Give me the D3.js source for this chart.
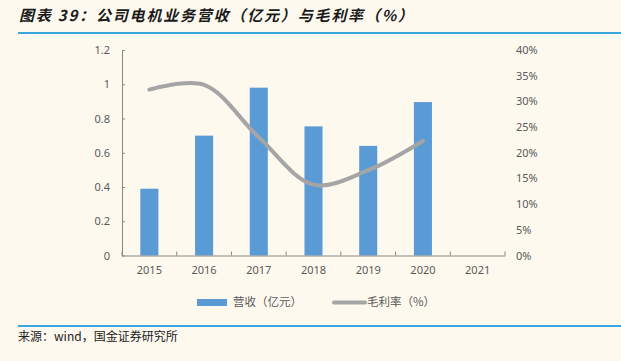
<!DOCTYPE html>
<html lang="zh">
<head>
<meta charset="UTF-8">
<title>公司电机业务营收与毛利率</title>
<style>
  * { margin: 0; padding: 0; }
  html, body { overflow: hidden; background: #FEF9EF; }
  text { font-family: "Noto Sans", "Noto Sans CJK SC", sans-serif; }
</style>
</head>
<body>
<div id="chart"></div>
<script src="https://cdn.jsdelivr.net/npm/d3@7"></script>
<script>
const years = ['2015', '2016', '2017', '2018', '2019', '2020', '2021']
const revenue = [0.39, 0.70, 0.98, 0.754, 0.64, 0.896, null]
const margin = [32.3, 33.2, 23.0, 13.8, 16.6, 22.3, null]
const leftTicks = [0, 0.2, 0.4, 0.6, 0.8, 1, 1.2]
const rightTicks = [0, 5, 10, 15, 20, 25, 30, 35, 40]

function drawChart() {
    const W = 621, H = 361
    const svg = d3.select('#chart').append('svg')
        .attr('width', W).attr('height', H)
        .style('background-color', '#FEF9EF')

    const plot = { left: 122, right: 505, top: 50, bottom: 255.5 }
    const gray = '#595959'

    // title + rules
    svg.append('text')
        .attr('x', 19).attr('y', 17)
        .attr('dominant-baseline', 'middle')
        .attr('textLength', 394).attr('lengthAdjust', 'spacing')
        .style('font-family', '"Noto Sans CJK SC", sans-serif')
        .style('font-size', '15px').style('font-weight', 'bold').style('font-style', 'italic')
        .attr('fill', '#1a1a1a')
        .text('图表 39：公司电机业务营收（亿元）与毛利率（%）')
    svg.append('line').attr('x1', 18).attr('x2', 621).attr('y1', 33).attr('y2', 33)
        .attr('stroke', '#3AA8E0').attr('stroke-width', 2)
    svg.append('line').attr('x1', 18).attr('x2', 621).attr('y1', 326).attr('y2', 326)
        .attr('stroke', '#3AA8E0').attr('stroke-width', 2)
    svg.append('text')
        .attr('x', 18).attr('y', 338)
        .attr('dominant-baseline', 'middle')
        .style('font-family', '"Noto Sans CJK SC", sans-serif')
        .style('font-size', '12px').attr('fill', '#222')
        .text('来源：wind，国金证券研究所')

    const x = d3.scaleBand().domain(years).range([plot.left, plot.right])
    const yL = d3.scaleLinear().domain([0, 1.2]).range([plot.bottom, plot.top])
    const yR = d3.scaleLinear().domain([0, 40]).range([plot.bottom, plot.top])

    // bars
    const barW = x.bandwidth() * 0.33
    svg.append('g').selectAll('rect')
        .data(years.map((y, i) => ({ y, v: revenue[i] })).filter(d => d.v != null))
        .join('rect')
        .attr('x', d => x(d.y) + x.bandwidth() / 2 - barW / 2)
        .attr('y', d => yL(d.v))
        .attr('width', barW)
        .attr('height', d => yL(0) - yL(d.v))
        .attr('fill', '#5B9BD5')

    // left axis
    const axL = svg.append('g')
        .attr('transform', `translate(${plot.left},0)`)
        .call(d3.axisLeft(yL).tickValues(leftTicks).tickSizeInner(-3).tickSizeOuter(0)
            .tickPadding(12).tickFormat(d => d3.format('')(d)))
    axL.select('.domain').attr('stroke', '#898989')
    axL.selectAll('.tick line').attr('stroke', '#898989')
    axL.selectAll('text').attr('fill', gray).style('font-size', '11px')

    // right axis
    const axR = svg.append('g')
        .attr('transform', `translate(${plot.right},0)`)
        .call(d3.axisRight(yR).tickValues(rightTicks).tickSize(0).tickPadding(11)
            .tickFormat(d => d + '%'))
    axR.select('.domain').remove()
    axR.selectAll('text').attr('fill', gray).style('font-size', '11px')

    // bottom axis
    const axB = svg.append('g')
        .attr('transform', `translate(0,${plot.bottom})`)
        .call(d3.axisBottom(x).tickSize(0).tickPadding(11))
    axB.select('.domain').attr('stroke', '#898989')
    axB.selectAll('text').attr('fill', gray).style('font-size', '11px')
    axB.selectAll('line.sep')
        .data(d3.range(years.length + 1))
        .join('line').attr('class', 'sep')
        .attr('x1', i => x.step() * i + plot.left).attr('x2', i => x.step() * i + plot.left)
        .attr('y1', 0).attr('y2', -4)
        .attr('stroke', '#898989')

    // margin line
    const pts = years.map((y, i) => ({ y, v: margin[i] })).filter(d => d.v != null)
    svg.append('path')
        .datum(pts)
        .attr('d', d3.line()
            .x(d => x(d.y) + x.bandwidth() / 2)
            .y(d => yR(d.v))
            .curve(d3.curveCatmullRom.alpha(0.5)))
        .attr('fill', 'none')
        .attr('stroke', '#A5A5A5')
        .attr('stroke-width', 4)
        .attr('stroke-linecap', 'round')

    // legend
    const lg = svg.append('g')
    lg.append('rect').attr('x', 197).attr('y', 299).attr('width', 30).attr('height', 7)
        .attr('fill', '#5B9BD5')
    lg.append('text').attr('x', 233).attr('y', 303).attr('dominant-baseline', 'middle')
        .style('font-family', '"Noto Sans CJK SC", sans-serif')
        .style('font-size', '11.5px').attr('fill', gray).text('营收（亿元）')
    lg.append('line').attr('x1', 334).attr('x2', 365).attr('y1', 302.5).attr('y2', 302.5)
        .attr('stroke', '#A5A5A5').attr('stroke-width', 4).attr('stroke-linecap', 'round')
    lg.append('text').attr('x', 367).attr('y', 303).attr('dominant-baseline', 'middle')
        .style('font-family', '"Noto Sans CJK SC", sans-serif')
        .style('font-size', '11.5px').attr('fill', gray).text('毛利率（%）')
}

drawChart()
</script>
</body>
</html>
